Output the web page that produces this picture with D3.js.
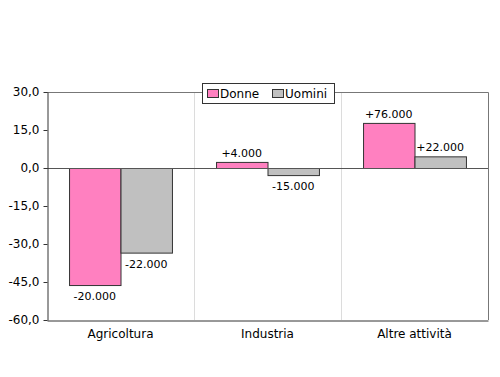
<!DOCTYPE html>
<html>
<head>
<meta charset="utf-8">
<script src="https://cdn.jsdelivr.net/npm/d3@7"></script>
<style>
  body { margin: 0; background: #fff; }
  svg { display: block; font-family: "DejaVu Sans", sans-serif; }
</style>
</head>
<body>
<div id="chart"></div>
<script>
// dati
const categories = ['Agricoltura', 'Industria', 'Altre attività'];
const seriesNames = ['Donne', 'Uomini'];
const donne = [-46.2, 2.4, 17.8];
const uomini = [-33.4, -2.8, 4.6];
const labelsDonne = ['-20.000', '+4.000', '+76.000'];
const labelsUomini = ['-22.000', '-15.000', '+22.000'];
const yTicks = [30, 15, 0, -15, -30, -45, -60];
const colors = { Donne: '#ff80c0', Uomini: '#c0c0c0' };

const width = 500, height = 377;
const margin = { top: 92, right: 12, bottom: 57, left: 47 };

const svg = d3.select('#chart').append('svg')
    .attr('width', width)
    .attr('height', height);

const x = d3.scaleBand()
    .domain(categories)
    .range([margin.left, width - margin.right]);

const groupW = x.bandwidth() * 0.70;
const x1 = d3.scaleBand()
    .domain(seriesNames)
    .range([0, groupW]);

const y = d3.scaleLinear()
    .domain([-60, 30])
    .range([height - margin.bottom, margin.top]);

const locale = d3.formatLocale({ decimal: ',', thousands: '.', grouping: [3], currency: ['', ''], minus: '-' });
const fmt = locale.format('.1f');

// separatori verticali tra le categorie
svg.selectAll('.sep')
    .data(categories.slice(1))
    .enter()
    .append('line')
    .attr('x1', d => x(d) + 0.5)
    .attr('x2', d => x(d) + 0.5)
    .attr('y1', margin.top)
    .attr('y2', height - margin.bottom)
    .attr('stroke', '#dcdcdc');

// bordo superiore e destro
svg.append('path')
    .attr('d', `M${margin.left},${margin.top + 0.5}H${width - margin.right + 0.5}V${height - margin.bottom}`)
    .attr('fill', 'none')
    .attr('stroke', '#777');

// barre
const rows = categories.flatMap((c, i) => [
    { cat: c, s: 'Donne', v: donne[i], label: labelsDonne[i] },
    { cat: c, s: 'Uomini', v: uomini[i], label: labelsUomini[i] }
]);

const offset = (x.bandwidth() - groupW) / 2;

svg.selectAll('.bar')
    .data(rows)
    .enter()
    .append('rect')
    .attr('class', 'bar')
    .attr('x', d => x(d.cat) + offset + x1(d.s) + 0.5)
    .attr('y', d => Math.min(y(d.v), y(0)) + 0.5)
    .attr('width', x1.bandwidth())
    .attr('height', d => Math.abs(y(d.v) - y(0)))
    .attr('fill', d => colors[d.s])
    .attr('stroke', '#333')
    .attr('stroke-width', 1);

// etichette dei valori
svg.selectAll('.val')
    .data(rows)
    .enter()
    .append('text')
    .attr('class', 'val')
    .attr('x', d => x(d.cat) + offset + x1(d.s) + x1.bandwidth() / 2)
    .attr('y', d => d.v >= 0 ? y(d.v) - 5 : y(d.v) + 15)
    .attr('text-anchor', 'middle')
    .attr('font-size', '11px')
    .attr('fill', '#000')
    .text(d => d.label);

// linea dello zero
svg.append('line')
    .attr('x1', margin.left)
    .attr('x2', width - margin.right)
    .attr('y1', y(0) + 0.5)
    .attr('y2', y(0) + 0.5)
    .attr('stroke', '#555');

// asse y
const yAxis = svg.append('g')
    .attr('transform', `translate(${margin.left + 0.5},0)`)
    .call(d3.axisLeft(y).tickValues(yTicks).tickFormat(fmt).tickSize(4).tickSizeOuter(0).tickPadding(4));
yAxis.select('.domain').attr('stroke', '#333');
yAxis.selectAll('.tick line').attr('stroke', '#333');
yAxis.selectAll('.tick text')
    .attr('font-family', '"DejaVu Sans", sans-serif')
    .attr('font-size', '12px')
    .attr('fill', '#000');

// asse x
const xAxis = svg.append('g')
    .attr('transform', `translate(0,${height - margin.bottom + 0.5})`)
    .call(d3.axisBottom(x).tickSize(0).tickPadding(9));
xAxis.select('.domain').attr('stroke', '#333');
xAxis.selectAll('.tick text')
    .attr('font-family', '"DejaVu Sans", sans-serif')
    .attr('font-size', '12px')
    .attr('fill', '#000');

// legenda
const lgX = 202, lgY = 83, lgW = 132, lgH = 20;
svg.append('rect')
    .attr('x', lgX + 0.5)
    .attr('y', lgY + 0.5)
    .attr('width', lgW)
    .attr('height', lgH)
    .attr('fill', '#fff')
    .attr('stroke', '#333');

const lg = svg.selectAll('.lg')
    .data(seriesNames)
    .enter()
    .append('g')
    .attr('class', 'lg')
    .attr('transform', (d, i) => `translate(${lgX + 5 + i * 65},${lgY})`);

lg.append('rect')
    .attr('x', 0.5)
    .attr('y', 6.5)
    .attr('width', 11)
    .attr('height', 8)
    .attr('fill', d => colors[d])
    .attr('stroke', '#333');

lg.append('text')
    .attr('x', 13)
    .attr('y', 15)
    .attr('font-size', '12px')
    .attr('fill', '#000')
    .text(d => d);
</script>
</body>
</html>
